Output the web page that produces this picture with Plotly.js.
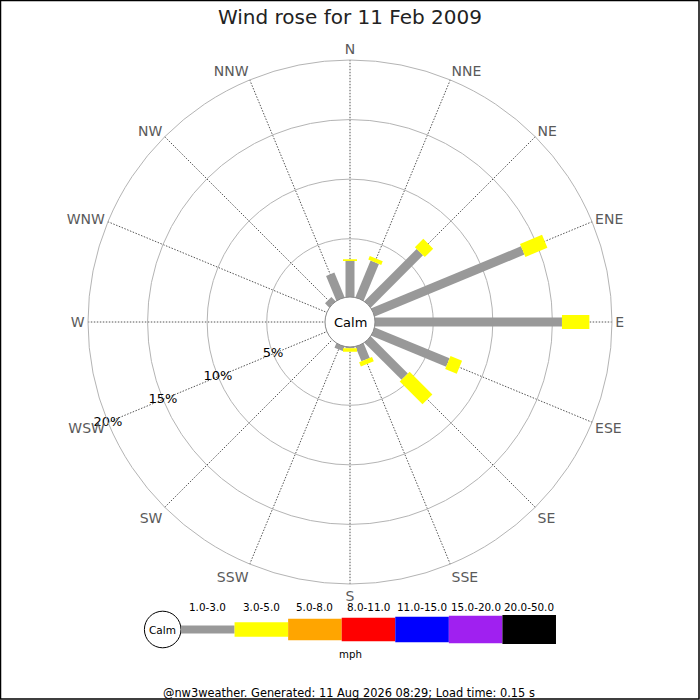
<!DOCTYPE html>
<html>
<head>
<meta charset="utf-8">
<script src="https://cdn.plot.ly/plotly-3.0.1.min.js"></script>
<style>
html,body{margin:0;padding:0;background:#fff;}
#chart{width:700px;height:700px;}
</style>
</head>
<body>
<div id="chart"></div>
<script>
// ---- data ----
const directions = ['N','NNE','NE','ENE','E','ESE','SE','SSE','S','SSW','SW','WSW','W','WNW','NW','NNW'];
const pct1to3 = [3.13, 3.44, 6.3, 13.7, 15.8, 6.9, 4.5, 1.43, 0.22, 0.5, 0, 0, 0, 0, 0.6, 2.35];
const pct3to5 = [0.14, 0.33, 1.0, 2.0, 2.3, 1.05, 2.7, 0.38, 0.28, 0, 0, 0, 0, 0, 0, 0];
const bandLabels = ['1.0-3.0','3.0-5.0','5.0-8.0','8.0-11.0','11.0-15.0','15.0-20.0','20.0-50.0'];
const bandColors = ['#999999','#ffff00','#ffa500','#ff0000','#0000ff','#a020f0','#000000'];
const radialTicks = [5, 10, 15, 20];
const radialTickLabels = ['5%','10%','15%','20%'];
const titleText = 'Wind rose for 11 Feb 2009';
const unitText = 'mph';
const footerText = '@nw3weather. Generated: 11 Aug 2026 08:29; Load time: 0.15 s';

// ---- style ----
const FONT = 'DejaVu Sans';
const W = 700, H = 700;
const cx = 350, cy = 322, R = 262, calmR = 25;
const px = x => x / W;
const py = y => 1 - y / H;
const legendThickness = [8, 14.7, 21.3, 23.7, 25.7, 27.3, 29];

function segments(base, len) {
  const r = [], th = [];
  directions.forEach((d, i) => {
    if (len[i] > 0) {
      r.push(base[i], base[i] + len[i], null);
      th.push(d, d, null);
    }
  });
  return {r, th};
}
const zeros = directions.map(() => 0);
const g = segments(zeros, pct1to3);
const y = segments(pct1to3, pct3to5);

const traces = [
  {type:'scatterpolar', mode:'markers', r: zeros, theta: directions,
   marker:{opacity:0}, hoverinfo:'skip', showlegend:false},
  {type:'scatterpolar', mode:'lines', r: g.r, theta: g.th, connectgaps:false,
   line:{color: bandColors[0], width:9}, hoverinfo:'skip', showlegend:false},
  {type:'scatterpolar', mode:'lines', r: y.r, theta: y.th, connectgaps:false,
   line:{color: bandColors[1], width:14}, hoverinfo:'skip', showlegend:false},
  {type:'scatterpolar', mode:'text', r: radialTicks, theta: radialTicks.map(() => 'WSW'),
   text: radialTickLabels, textposition:'middle center', cliponaxis:false,
   textfont:{family:FONT, size:13, color:'#000'}, hoverinfo:'skip', showlegend:false}
];

const shapes = [];
const annotations = [];

// calm circle in the middle
shapes.push({type:'circle', xref:'paper', yref:'paper', layer:'above',
  x0:px(cx-calmR), x1:px(cx+calmR), y0:py(cy+calmR), y1:py(cy-calmR),
  fillcolor:'#fff', line:{color:'#888', width:1}});
annotations.push({xref:'paper', yref:'paper', x:px(cx), y:py(cy), text:'Calm', showarrow:false,
  xanchor:'center', yanchor:'middle', font:{family:FONT, size:13, color:'#000'}});

// legend
const lcx = 162.7, lcy = 629.5, lcr = 18.3;
shapes.push({type:'circle', xref:'paper', yref:'paper', layer:'above',
  x0:px(lcx-lcr), x1:px(lcx+lcr), y0:py(lcy+lcr), y1:py(lcy-lcr),
  fillcolor:'#fff', line:{color:'#000', width:1}});
annotations.push({xref:'paper', yref:'paper', x:px(lcx), y:py(lcy), text:'Calm', showarrow:false,
  xanchor:'center', yanchor:'middle', font:{family:FONT, size:10.5, color:'#000'}});
const lx0 = 181, lstep = 53.57;
bandLabels.forEach((lab, i) => {
  const x0 = lx0 + i * lstep, x1 = x0 + lstep, h = legendThickness[i];
  shapes.push({type:'rect', xref:'paper', yref:'paper', layer:'above',
    x0:px(x0), x1:px(x1), y0:py(lcy + h/2), y1:py(lcy - h/2),
    fillcolor:bandColors[i], line:{width:0}});
  annotations.push({xref:'paper', yref:'paper', x:px((x0+x1)/2), y:py(607.3), text:lab, showarrow:false,
    xanchor:'center', yanchor:'middle', font:{family:FONT, size:10.4, color:'#000'}});
});
annotations.push({xref:'paper', yref:'paper', x:px(350.5), y:py(654), text:unitText, showarrow:false,
  xanchor:'center', yanchor:'middle', font:{family:FONT, size:10.2, color:'#000'}});
annotations.push({xref:'paper', yref:'paper', x:px(348.5), y:py(692.5), text:footerText, showarrow:false,
  xanchor:'center', yanchor:'middle', font:{family:FONT, size:11.4, color:'#000'}});

// frame
shapes.push({type:'rect', xref:'paper', yref:'paper', layer:'above',
  x0:px(0.5), x1:px(699), y0:py(699), y1:py(0.5), fillcolor:'rgba(0,0,0,0)',
  line:{color:'#000', width:1.5}});

const layout = {
  width: W, height: H,
  margin:{l:0, r:0, t:0, b:0, pad:0},
  paper_bgcolor:'#fff',
  showlegend:false,
  font:{family:FONT},
  title:{text:titleText, x:0.5, xanchor:'center', y:py(17), yanchor:'middle',
    font:{family:FONT, size:20, color:'#222'}},
  polar:{
    domain:{x:[px(cx-R), px(cx+R)], y:[py(cy+R), py(cy-R)]},
    hole: 23.7 / R,
    bgcolor:'#fff',
    radialaxis:{range:[0,20], tickvals:radialTicks, showticklabels:false, ticks:'',
      showline:false, gridcolor:'#b4b4b4', gridwidth:1},
    angularaxis:{type:'category', categoryorder:'array', categoryarray:directions,
      direction:'clockwise', rotation:90, ticks:'', showline:true, linecolor:'#b4b4b4', linewidth:1,
      gridcolor:'#555', griddash:'1.5px,1.5px', gridwidth:1,
      tickfont:{family:FONT, size:14, color:'#5a5a5a'}}
  },
  shapes: shapes,
  annotations: annotations
};

Plotly.newPlot('chart', traces, layout, {staticPlot:true, displayModeBar:false});
</script>
</body>
</html>
